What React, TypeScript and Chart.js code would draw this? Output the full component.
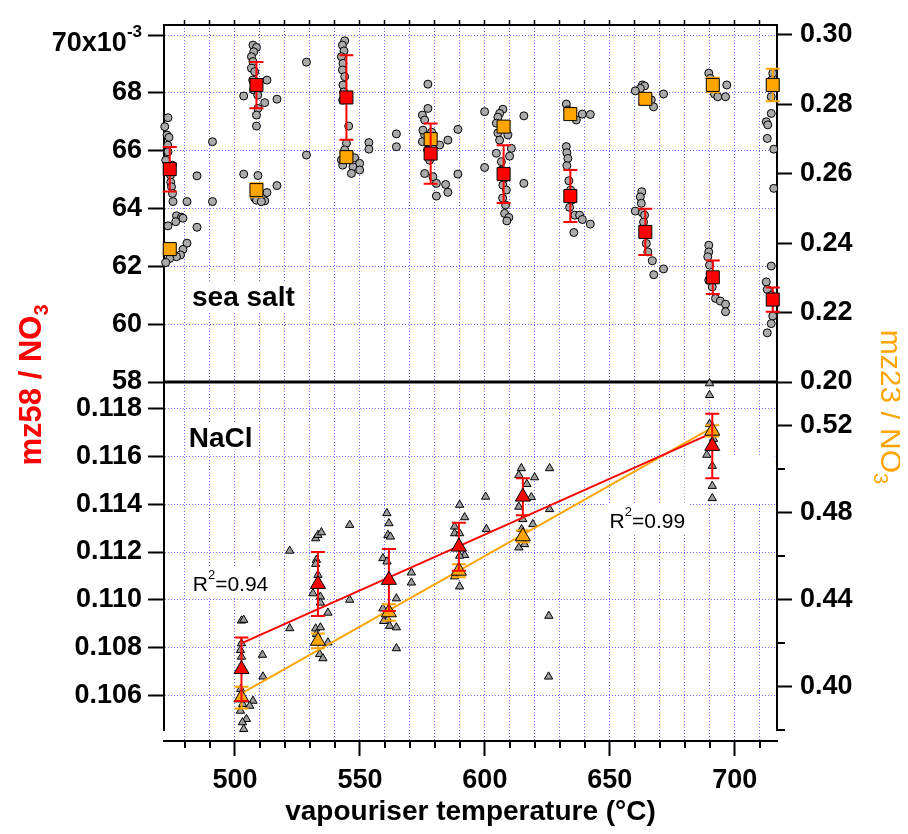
import { useEffect, useRef } from 'react';
import { Chart, registerables } from 'chart.js';

Chart.register(...registerables);

const FONT = '"Liberation Sans", Arial, Helvetica, sans-serif';
const GRID_COLOR = '#6a6aff';
const RED = '#ff0000';
const ORANGE = '#ffa500';
const GRAY_CIRCLE = '#aaaaaa';
const GRAY_TRI = '#9c9c9c';

// ---------- axes ----------
const tempMin = 471.6;
const tempMax = 716.9;
const tempTicks = [480, 490, 500, 510, 520, 530, 540, 550, 560, 570, 580, 590, 600, 610, 620, 630, 640, 650, 660, 670, 680, 690, 700, 710];
const seaSaltLeftTicks = [0.058, 0.06, 0.062, 0.064, 0.066, 0.068, 0.07];
const seaSaltRightTicks = [0.2, 0.22, 0.24, 0.26, 0.28, 0.3];
const naclLeftTicks = [0.106, 0.108, 0.11, 0.112, 0.114, 0.116, 0.118];
const naclRightTicks = [0.4, 0.44, 0.48, 0.52];
const naclRightMinorTicks = [0.38, 0.42, 0.46, 0.5];

// ---------- sea salt means ----------
const seaSaltTemp = [473.9, 508.6, 544.6, 578.3, 607.5, 634.2, 664.2, 691.2, 715.2];
const seaSaltMz58 = [0.06536, 0.06827, 0.06784, 0.0659, 0.06519, 0.06443, 0.06319, 0.06162, 0.06085];
const seaSaltMz58Err = [0.00077, 0.0008, 0.00146, 0.00104, 0.001, 0.0009, 0.0008, 0.00058, 0.00042];
const seaSaltMz23 = [0.2383, 0.2553, 0.2648, 0.27, 0.2736, 0.2772, 0.2816, 0.2856, 0.2856];
const seaSaltMz23Err = [0.0012, 0.002, 0.0012, 0.0012, 0.0012, 0.0012, 0.0015, 0.0021, 0.0047];

// ---------- sea salt single measurements ----------
const seaSaltRawMz58: [number, number][] = [
  [473.2, 0.06714], [471.9, 0.06683], [472.8, 0.06654], [473.6, 0.06646], [473.1, 0.06619], [473.2, 0.06596], [472.3, 0.06567],
  [474.9, 0.0655], [474.2, 0.06516], [474.3, 0.06491], [474.6, 0.06475], [475.0, 0.06452], [484.8, 0.06513], [491.0, 0.06631],
  [507.2, 0.06965], [508.6, 0.06957], [507.5, 0.06942], [506.6, 0.06925], [507.2, 0.06908], [506.6, 0.06885], [507.9, 0.06873],
  [512.8, 0.06844], [507.1, 0.06844], [507.5, 0.0681], [509.1, 0.06792], [503.5, 0.06789], [516.8, 0.06778], [511.9, 0.06766],
  [509.2, 0.06746], [508.6, 0.06723], [508.6, 0.06685], [528.6, 0.06906],
  [543.9, 0.0698], [543.0, 0.06965], [543.6, 0.06945], [542.6, 0.06925], [543.2, 0.06902], [543.0, 0.06879], [543.9, 0.06856],
  [543.2, 0.06827], [543.5, 0.06803], [543.1, 0.06775], [545.5, 0.06685],
  [577.2, 0.0683], [577.2, 0.06746], [575.0, 0.06723], [575.9, 0.06706], [575.2, 0.06671], [575.0, 0.06631], [577.1, 0.06602],
  [577.9, 0.06567], [575.9, 0.06521], [579.2, 0.0651], [580.6, 0.06487], [584.3, 0.06483], [585.2, 0.06456], [580.6, 0.06443],
  [589.2, 0.06519],
  [610.6, 0.06608], [604.6, 0.06591], [609.9, 0.06581], [606.6, 0.06562], [599.9, 0.06542], [606.7, 0.06533], [607.9, 0.06505],
  [615.6, 0.06487], [607.2, 0.06481], [608.6, 0.06464], [607.1, 0.06436], [608.3, 0.06412], [607.9, 0.06383], [609.6, 0.06369],
  [608.8, 0.06357],
  [632.6, 0.06614], [632.8, 0.06593], [633.2, 0.06573], [632.8, 0.06548], [633.6, 0.06496], [634.3, 0.06464], [634.7, 0.06429],
  [633.9, 0.06404], [636.0, 0.06377], [637.9, 0.06377], [639.0, 0.06362], [642.2, 0.06346], [635.6, 0.06317],
  [662.8, 0.06458], [662.2, 0.0644], [662.6, 0.06418], [660.2, 0.06391], [663.0, 0.06385], [663.9, 0.06377], [663.5, 0.06353],
  [664.6, 0.06279], [665.2, 0.0625], [667.0, 0.06219], [671.5, 0.06191], [667.6, 0.06171],
  [689.6, 0.06273], [689.6, 0.0625], [689.2, 0.06233], [689.9, 0.06204], [689.6, 0.06152], [691.0, 0.06129], [692.3, 0.06089],
  [694.2, 0.0608], [696.3, 0.06069], [696.3, 0.06043],
  [714.6, 0.06201], [712.6, 0.06146], [713.0, 0.0612], [714.7, 0.061], [715.2, 0.06028], [714.6, 0.06002], [713.0, 0.0597],
];

const seaSaltRawMz23: [number, number][] = [
  [475.2, 0.252], [480.8, 0.252], [491.0, 0.252], [476.6, 0.2479], [478.6, 0.2475], [479.2, 0.2472], [476.3, 0.2462],
  [473.2, 0.245], [484.8, 0.2446], [480.8, 0.24], [479.2, 0.2382], [478.2, 0.2366], [476.6, 0.2361], [473.9, 0.2356], [472.3, 0.2344],
  [509.2, 0.2595], [503.5, 0.2599], [516.8, 0.2566], [512.8, 0.2546], [507.9, 0.253], [508.6, 0.2524], [511.9, 0.2522],
  [510.6, 0.252], [528.6, 0.2654],
  [544.6, 0.2688], [553.6, 0.269], [553.6, 0.2671], [543.9, 0.2669], [545.9, 0.2654], [547.9, 0.2646], [542.6, 0.264],
  [549.9, 0.263], [543.1, 0.2625], [547.2, 0.262], [549.9, 0.2611], [546.6, 0.2601], [564.6, 0.2715], [564.6, 0.2678],
  [589.2, 0.2728], [578.7, 0.272], [575.9, 0.2712], [585.2, 0.2697], [581.9, 0.2683],
  [599.9, 0.2779], [607.2, 0.2786], [605.9, 0.2774], [615.6, 0.2767], [605.2, 0.2763], [604.6, 0.2746], [607.1, 0.2732],
  [605.2, 0.2718], [609.2, 0.2712], [605.9, 0.2697],
  [632.6, 0.2801], [633.2, 0.2784], [639.0, 0.2772], [642.2, 0.2771], [636.6, 0.2755],
  [663.0, 0.2856], [663.9, 0.2853], [662.2, 0.2846], [660.2, 0.2839], [671.5, 0.283], [666.6, 0.2813], [667.5, 0.2793],
  [689.6, 0.289], [690.2, 0.2875], [696.8, 0.2856], [691.9, 0.283], [693.2, 0.2822], [696.3, 0.2822],
  [715.2, 0.289], [714.7, 0.287], [714.6, 0.2822], [714.6, 0.2774], [712.6, 0.275], [713.2, 0.2741], [713.0, 0.2702],
  [715.6, 0.2671], [715.6, 0.2558],
];

// ---------- NaCl means ----------
const naclTemp = [502.6, 533.2, 561.6, 589.6, 615.2, 691.0];
const naclMz58 = [0.1071, 0.11066, 0.11083, 0.11222, 0.11431, 0.11643];
const naclMz58Err = [0.00133, 0.00134, 0.0013, 0.001, 0.00077, 0.00135];
const naclMz23 = [0.3949, 0.4209, 0.434, 0.4531, 0.4689, 0.5174];
const naclMz23Err = [0.005, 0.0034, 0.0038, 0.003, 0.0027, 0.0026];

// ---------- NaCl linear fits ----------
const fitMz58Temp = [503.2, 690.6];
const fitMz58Value = [0.10821, 0.11696];
const fitMz23Temp = [503.2, 689.9];
const fitMz23Value = [0.3972, 0.5182];

// ---------- NaCl single measurements ----------
const naclRawMz58: [number, number][] = [
  [502.6, 0.10913], [503.5, 0.10916], [502.6, 0.10818], [502.2, 0.1079], [502.6, 0.10762], [511.2, 0.10679], [511.0, 0.1077],
  [521.9, 0.10881],
  [532.3, 0.11257], [533.2, 0.11271], [534.6, 0.11282], [532.6, 0.11167], [532.3, 0.1115], [533.2, 0.11104], [531.2, 0.11027],
  [534.2, 0.11013], [534.2, 0.10988], [537.2, 0.10946], [545.9, 0.11], [545.9, 0.11313], [521.9, 0.11205],
  [560.8, 0.11362], [561.6, 0.1132], [561.2, 0.11271], [562.2, 0.11264], [559.2, 0.11174], [560.8, 0.1116], [570.6, 0.11114],
  [570.6, 0.11072],
  [589.9, 0.11397], [591.9, 0.11345], [587.9, 0.11306], [587.9, 0.11278], [589.9, 0.11278], [600.3, 0.11431], [600.6, 0.11296],
  [614.6, 0.1155], [613.6, 0.11522], [619.9, 0.11512], [625.9, 0.1155], [616.8, 0.11484], [618.6, 0.11429], [613.6, 0.11389],
  [689.9, 0.11856], [689.9, 0.11905], [688.8, 0.11606], [691.0, 0.1156], [691.0, 0.11476], [691.0, 0.11425],
];

const naclRawMz23: [number, number][] = [
  [507.2, 0.3934], [505.9, 0.3911], [504.6, 0.385], [503.0, 0.3835], [503.5, 0.3804], [502.2, 0.3888], [502.3, 0.3988], [503.1, 0.3919],
  [532.3, 0.4266], [534.2, 0.4271], [532.6, 0.424], [537.2, 0.4202], [533.9, 0.4148], [535.2, 0.4129],
  [559.2, 0.4358], [561.9, 0.4278], [564.6, 0.4271], [564.6, 0.4404], [564.6, 0.4175], [561.1, 0.4309], [559.5, 0.43],
  [591.9, 0.4603], [589.9, 0.46], [589.9, 0.4459], [587.9, 0.4505],
  [615.2, 0.4768], [619.2, 0.4745], [625.9, 0.4814], [613.6, 0.4638], [625.6, 0.4324], [625.5, 0.4045], [614.7, 0.4722], [615.9, 0.4653],
  [690.7, 0.5182], [691.5, 0.5136], [689.9, 0.5205],
];

// ---------- helpers ----------
const zipPts = (xs: number[], ys: number[]) => xs.map((x, i) => ({ x, y: ys[i] }));
const rowPts = (rows: [number, number][]) => rows.map(([x, y]) => ({ x, y }));
const fixTicks = (vals: number[]) => (s: any) => {
  s.ticks = vals.map((v) => ({ value: v }));
};
const fitV = (w: number) => (s: any) => {
  s.width = w;
  s.paddingTop = 0;
  s.paddingBottom = 0;
};
const fitH = (h: number) => (s: any) => {
  s.height = h;
  s.paddingLeft = 0;
  s.paddingRight = 0;
};
const tickFont = { family: FONT, size: 27, weight: 'bold' as const };

type Part = { t: string; f: string; dy?: number };
function richWidth(ctx: CanvasRenderingContext2D, parts: Part[]) {
  let w = 0;
  for (const p of parts) {
    ctx.font = p.f;
    w += ctx.measureText(p.t).width;
  }
  return w;
}
function drawRich(ctx: CanvasRenderingContext2D, parts: Part[], x: number, y: number) {
  let cx = x;
  for (const p of parts) {
    ctx.font = p.f;
    ctx.fillText(p.t, cx, y + (p.dy || 0));
    cx += ctx.measureText(p.t).width;
  }
}

const decorPlugin = {
  id: 'decor',
  beforeDatasetsDraw(chart: any) {
    const { ctx, chartArea, scales } = chart;
    const sx = scales.x;
    const yTL = scales.yTopL;
    const yBL = scales.yBotL;
    ctx.save();
    ctx.textAlign = 'left';
    ctx.textBaseline = 'alphabetic';

    // blank opaque box (hidden annotation) in the NaCl panel
    const bx1 = sx.getPixelForValue(679.9);
    const bx2 = sx.getPixelForValue(715.9);
    const by1 = yBL.getPixelForValue(0.11606);
    const by2 = yBL.getPixelForValue(0.11405);
    ctx.fillStyle = '#fff';
    ctx.fillRect(bx1, by1, bx2 - bx1, by2 - by1);

    const boxText = (parts: Part[], x: number, y: number, asc: number, desc: number) => {
      const w = richWidth(ctx, parts);
      ctx.fillStyle = '#fff';
      ctx.fillRect(x - 3, y - asc - 3, w + 6, asc + desc + 6);
      ctx.fillStyle = '#000';
      drawRich(ctx, parts, x, y);
    };
    const big = `bold 28px ${FONT}`;
    const r2 = `21px ${FONT}`;
    const r2s = `13px ${FONT}`;
    boxText([{ t: 'sea salt', f: big }], sx.getPixelForValue(482.8), yTL.getPixelForValue(0.060628), 21, 2);
    boxText([{ t: 'NaCl', f: big }], sx.getPixelForValue(481.5), yBL.getPixelForValue(0.116403), 21, 2);
    boxText([{ t: 'R', f: r2 }, { t: '2', f: r2s, dy: -12 }, { t: '=0.94', f: r2 }], sx.getPixelForValue(483.1), yBL.getPixelForValue(0.11037), 22, 3);
    boxText([{ t: 'R', f: r2 }, { t: '2', f: r2s, dy: -12 }, { t: '=0.99', f: r2 }], sx.getPixelForValue(649.9), yBL.getPixelForValue(0.112991), 22, 3);

    // panel separator
    const sy = yTL.bottom;
    ctx.strokeStyle = '#000';
    ctx.lineWidth = 3;
    ctx.beginPath();
    ctx.moveTo(chartArea.left - 1, sy);
    ctx.lineTo(chartArea.right + 1, sy);
    ctx.stroke();

    // minor x ticks
    ctx.lineWidth = 2;
    ctx.beginPath();
    for (const v of tempTicks) {
      if (v % 50 === 0) continue;
      const px = Math.round(sx.getPixelForValue(v));
      ctx.moveTo(px, chartArea.bottom);
      ctx.lineTo(px, chartArea.bottom + 7);
    }
    // minor right ticks (NaCl panel)
    const yBR = scales.yBotR;
    for (const v of naclRightMinorTicks) {
      const py = Math.round(yBR.getPixelForValue(v));
      ctx.moveTo(yBR.left, py);
      ctx.lineTo(yBR.left + 8, py);
    }
    ctx.stroke();
    ctx.restore();
  },
  beforeDatasetDraw(chart: any, args: any) {
    const ds = chart.data.datasets[args.index];
    if (!ds.errors) return;
    const { ctx } = chart;
    const xs = chart.scales.x;
    const ys = chart.scales[ds.yAxisID];
    ctx.save();
    ctx.strokeStyle = ds.errColor;
    ctx.lineWidth = 2;
    ds.data.forEach((p: any, i: number) => {
      const px = xs.getPixelForValue(p.x);
      const t = ys.getPixelForValue(p.y + ds.errors[i]);
      const b = ys.getPixelForValue(p.y - ds.errors[i]);
      ctx.beginPath();
      ctx.moveTo(px, t);
      ctx.lineTo(px, b);
      ctx.moveTo(px - 7, t);
      ctx.lineTo(px + 7, t);
      ctx.moveTo(px - 7, b);
      ctx.lineTo(px + 7, b);
      ctx.stroke();
    });
    ctx.restore();
  },
  afterDraw(chart: any) {
    const { ctx, scales } = chart;
    ctx.save();
    ctx.textAlign = 'left';
    ctx.textBaseline = 'alphabetic';

    // "70x10^-3" top label
    const yTL = scales.yTopL;
    const topParts: Part[] = [
      { t: '70x10', f: `bold 27px ${FONT}` },
      { t: '-3', f: `bold 17px ${FONT}`, dy: -14 },
    ];
    const tw = richWidth(ctx, topParts);
    ctx.fillStyle = '#000';
    drawRich(ctx, topParts, yTL.right - 22 - tw, yTL.getPixelForValue(0.07) + 16);

    // left axis title
    const leftParts: Part[] = [
      { t: 'mz58 / NO', f: `bold 31px ${FONT}` },
      { t: '3', f: `bold 20px ${FONT}`, dy: 7 },
    ];
    ctx.save();
    ctx.translate(22, 377);
    ctx.rotate(-Math.PI / 2);
    ctx.fillStyle = RED;
    const lw = richWidth(ctx, leftParts);
    drawRich(ctx, leftParts, -lw / 2, 11);
    ctx.restore();

    // right axis title
    const rightParts: Part[] = [
      { t: 'mz23 / NO', f: `30px ${FONT}` },
      { t: '3', f: `20px ${FONT}`, dy: 7 },
    ];
    ctx.save();
    ctx.translate(884, 399);
    ctx.rotate(Math.PI / 2);
    ctx.fillStyle = ORANGE;
    const rw = richWidth(ctx, rightParts);
    drawRich(ctx, rightParts, -rw / 2, 11);
    ctx.restore();

    ctx.restore();
  },
};

export default function App() {
  const ref = useRef<HTMLCanvasElement>(null);

  useEffect(() => {
    if (!ref.current) return;
    const yGrid = {
      color: GRID_COLOR,
      lineWidth: 1,
      tickLength: 16,
      tickWidth: 2,
      tickColor: '#000',
      tickBorderDash: [],
    };
    const noGridRight = {
      drawOnChartArea: false,
      tickLength: 15,
      tickWidth: 2,
      tickColor: '#000',
      tickBorderDash: [],
    };
    const border = { display: true, color: '#000', width: 2, dash: [1, 2] };

    const markerDs = (label: string, data: any[], yAxisID: string, style: string, r: number, color: string, errors?: number[]) =>
      ({
        label,
        data,
        xAxisID: 'x',
        yAxisID,
        pointStyle: style,
        pointRadius: r,
        backgroundColor: color,
        borderColor: '#000',
        borderWidth: 1,
        clip: false,
        errors,
        errColor: color,
      }) as any;
    const lineDs = (label: string, data: any[], yAxisID: string, color: string) =>
      ({
        label,
        data,
        xAxisID: 'x',
        yAxisID,
        showLine: true,
        pointRadius: 0,
        borderColor: color,
        borderWidth: 2,
        fill: false,
      }) as any;

    const chart = new Chart(ref.current, {
      type: 'scatter',
      data: {
        datasets: [
          markerDs('mz58 sea salt', zipPts(seaSaltTemp, seaSaltMz58), 'yTopL', 'rect', 9.2, RED, seaSaltMz58Err),
          markerDs('mz23 sea salt', zipPts(seaSaltTemp, seaSaltMz23), 'yTopR', 'rect', 9.2, ORANGE, seaSaltMz23Err),
          markerDs('mz58 NaCl', zipPts(naclTemp, naclMz58), 'yBotL', 'triangle', 8.7, RED, naclMz58Err),
          markerDs('mz23 NaCl', zipPts(naclTemp, naclMz23), 'yBotR', 'triangle', 8.7, ORANGE, naclMz23Err),
          lineDs('fit mz58', zipPts(fitMz58Temp, fitMz58Value), 'yBotL', RED),
          lineDs('fit mz23', zipPts(fitMz23Temp, fitMz23Value), 'yBotR', ORANGE),
          markerDs('raw mz58 sea salt', rowPts(seaSaltRawMz58), 'yTopL', 'circle', 4, GRAY_CIRCLE),
          markerDs('raw mz23 sea salt', rowPts(seaSaltRawMz23), 'yTopR', 'circle', 4, GRAY_CIRCLE),
          markerDs('raw mz58 NaCl', rowPts(naclRawMz58), 'yBotL', 'triangle', 4.8, GRAY_TRI),
          markerDs('raw mz23 NaCl', rowPts(naclRawMz23), 'yBotR', 'triangle', 4.8, GRAY_TRI),
        ],
      },
      options: {
        animation: false,
        responsive: true,
        maintainAspectRatio: false,
        events: [],
        layout: { padding: 0 },
        plugins: {
          legend: { display: false },
          tooltip: { enabled: false },
        },
        scales: {
          x: {
            type: 'linear',
            position: 'bottom',
            min: tempMin,
            max: tempMax,
            afterBuildTicks: fixTicks(tempTicks),
            afterFit: fitH(85),
            grid: {
              color: GRID_COLOR,
              lineWidth: 1,
              tickLength: 15,
              tickWidth: 2,
              tickColor: (c: any) => (c.tick && c.tick.value % 50 === 0 ? '#000' : 'rgba(0,0,0,0)'),
              tickBorderDash: [],
            },
            border,
            ticks: {
              autoSkip: false,
              maxRotation: 0,
              minRotation: 0,
              padding: 8,
              color: '#000',
              font: tickFont,
              callback: (v: any) => (Number(v) % 50 === 0 ? String(v) : ''),
            },
            title: {
              display: true,
              text: 'vapouriser temperature (°C)',
              color: '#000',
              font: { family: FONT, size: 28, weight: 'bold', lineHeight: 1 },
              padding: { top: 0, bottom: 0 },
            },
          },
          xTop: {
            type: 'linear',
            position: 'top',
            min: tempMin,
            max: tempMax,
            afterBuildTicks: fixTicks(tempTicks),
            afterFit: fitH(17),
            grid: { drawOnChartArea: false, tickLength: 5, tickWidth: 1.5, tickColor: '#000', tickBorderDash: [] },
            border: { display: true, color: '#000', width: 2 },
            ticks: { display: false },
          },
          yTopL: {
            type: 'linear',
            position: 'left',
            stack: 'left',
            stackWeight: 357,
            weight: 3,
            min: 0.058,
            max: 0.070346,
            afterBuildTicks: fixTicks(seaSaltLeftTicks),
            afterFit: fitV(156),
            grid: yGrid,
            border,
            ticks: {
              autoSkip: false,
              padding: 6,
              color: '#000',
              font: tickFont,
              callback: (v: any) => (Math.abs(Number(v) - 0.07) < 1e-9 ? '' : String(Math.round(Number(v) * 1000))),
            },
          },
          yBotL: {
            type: 'linear',
            position: 'left',
            stack: 'left',
            stackWeight: 348,
            weight: 2,
            min: 0.104558,
            max: 0.119108,
            afterBuildTicks: fixTicks(naclLeftTicks),
            afterFit: fitV(156),
            grid: yGrid,
            border,
            ticks: {
              autoSkip: false,
              padding: 6,
              color: '#000',
              font: tickFont,
              callback: (v: any) => Number(v).toFixed(3),
            },
          },
          yPadL: {
            type: 'linear',
            position: 'left',
            stack: 'left',
            stackWeight: 11,
            weight: 1,
            min: 0,
            max: 1,
            afterFit: fitV(156),
            grid: { display: false },
            border: { display: false },
            ticks: { display: false },
          },
          yTopR: {
            type: 'linear',
            position: 'right',
            stack: 'right',
            stackWeight: 357,
            weight: 1,
            min: 0.2,
            max: 0.30288,
            afterBuildTicks: fixTicks(seaSaltRightTicks),
            afterFit: fitV(123),
            grid: noGridRight,
            border,
            ticks: {
              autoSkip: false,
              padding: 8,
              color: '#000',
              font: tickFont,
              callback: (v: any) => Number(v).toFixed(2),
            },
          },
          yBotR: {
            type: 'linear',
            position: 'right',
            stack: 'right',
            stackWeight: 348,
            weight: 2,
            min: 0.38,
            max: 0.53982,
            afterBuildTicks: fixTicks(naclRightTicks),
            afterFit: fitV(123),
            grid: noGridRight,
            border,
            ticks: {
              autoSkip: false,
              padding: 8,
              color: '#000',
              font: tickFont,
              callback: (v: any) => Number(v).toFixed(2),
            },
          },
          yPadR: {
            type: 'linear',
            position: 'right',
            stack: 'right',
            stackWeight: 11,
            weight: 3,
            min: 0,
            max: 1,
            afterFit: fitV(123),
            grid: { display: false },
            border: { display: false },
            ticks: { display: false },
          },
        } as any,
      },
      plugins: [decorPlugin as any],
    });
    return () => chart.destroy();
  }, []);

  return (
    <div style={{ width: 892, height: 818, position: 'relative' }}>
      <canvas ref={ref} />
    </div>
  );
}
